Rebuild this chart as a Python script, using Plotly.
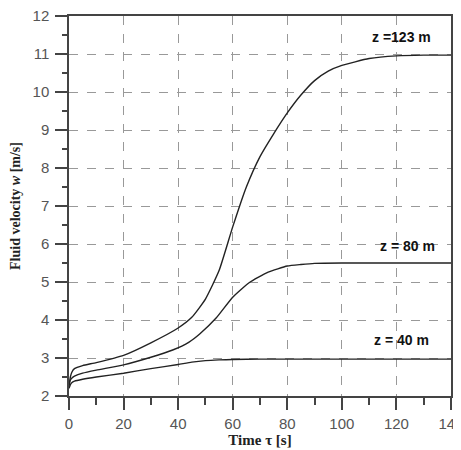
import plotly.graph_objects as go

t_123 = [0, 0.5, 1, 2, 5, 10, 20, 30, 40, 45, 50, 55, 60, 65, 70, 75, 80, 85, 90, 95, 100, 110, 120, 130, 140]
w_123 = [2.25, 2.5, 2.62, 2.72, 2.8, 2.88, 3.07, 3.4, 3.79, 4.07, 4.55, 5.3, 6.45, 7.5, 8.3, 8.9, 9.45, 9.92, 10.3, 10.55, 10.7, 10.88, 10.95, 10.97, 10.97]

t_80 = [0, 0.5, 1, 2, 5, 10, 20, 30, 38, 44, 48, 54, 60, 66, 73, 80, 85, 90, 100, 110, 120, 140]
w_80 = [2.3, 2.42, 2.47, 2.52, 2.6, 2.68, 2.82, 3.02, 3.21, 3.42, 3.64, 4.06, 4.6, 4.98, 5.26, 5.42, 5.46, 5.49, 5.5, 5.5, 5.5, 5.5]

t_40 = [0, 0.5, 1, 2, 5, 10, 20, 30, 40, 45, 50, 55, 60, 70, 80, 100, 120, 140]
w_40 = [2.2, 2.3, 2.35, 2.39, 2.44, 2.5, 2.6, 2.72, 2.83, 2.89, 2.93, 2.95, 2.96, 2.97, 2.97, 2.97, 2.97, 2.97]

labels = ["z =123 m", "z = 80 m", "z = 40 m"]
label_x = [122, 124, 122]
label_y = [11.45, 5.95, 3.47]

x_ticks = [0, 20, 40, 60, 80, 100, 120, 140]
y_ticks = [2, 3, 4, 5, 6, 7, 8, 9, 10, 11, 12]

fig = go.Figure()
for t, w in [(t_123, w_123), (t_80, w_80), (t_40, w_40)]:
    fig.add_trace(go.Scatter(x=t, y=w, mode="lines",
                             line=dict(color="#222", width=1.4, shape="spline", smoothing=0.5),
                             showlegend=False))

for lab, lx, ly in zip(labels, label_x, label_y):
    fig.add_annotation(x=lx, y=ly, text="<b>" + lab + "</b>", showarrow=False,
                       font=dict(family="Liberation Sans, Arial", size=14, color="#111"))

axis_common = dict(showline=True, linecolor="#444", linewidth=1.5, mirror=True,
                   showgrid=True, gridcolor="#999", griddash="dash", gridwidth=1,
                   ticks="outside", tickcolor="#444", ticklen=12, tickwidth=1.5,
                   tickfont=dict(family="Liberation Sans, Arial", size=15, color="#555"),
                   ticklabeloverflow="allow", zeroline=False)

fig.update_xaxes(range=[0, 140], tickvals=x_ticks, **axis_common, ticklabelstandoff=1,
                 minor=dict(dtick=10, ticks="outside", ticklen=7, tickcolor="#444", showgrid=False),
                 title=dict(text="<b>Time τ [s]</b>",
                            font=dict(family="Liberation Serif, Times New Roman", size=15, color="#222"),
                            standoff=3))
fig.update_yaxes(range=[2, 12], tickvals=y_ticks, **axis_common, ticklabelstandoff=3,
                 minor=dict(dtick=0.5, ticks="outside", ticklen=5, tickcolor="#444", showgrid=False),
                 title=dict(text="<b>Fluid velocity <i>w</i> [m/s]</b>",
                            font=dict(family="Liberation Serif, Times New Roman", size=14, color="#222"),
                            standoff=10))

fig.update_layout(width=461, height=450, margin=dict(l=61, r=18, t=8, b=62, autoexpand=False),
                  plot_bgcolor="white", paper_bgcolor="white")

fig.write_html("out.html")
